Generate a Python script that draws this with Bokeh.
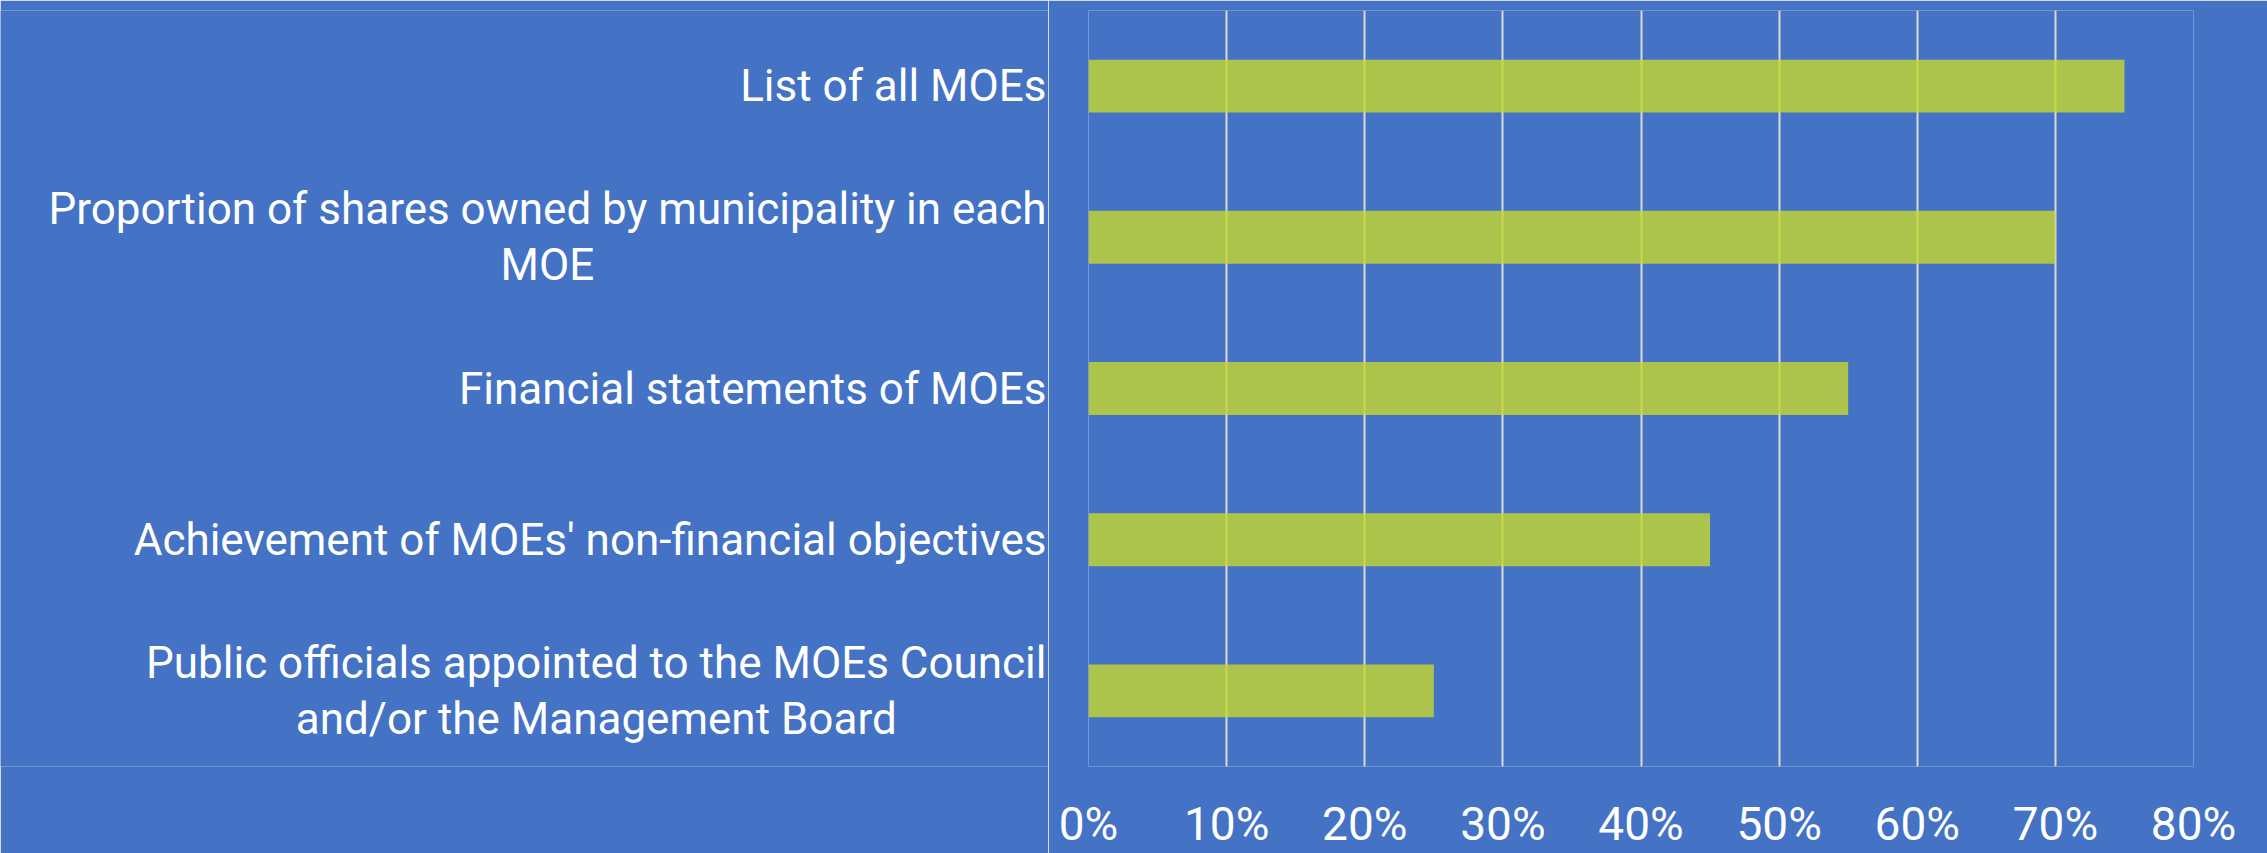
from bokeh.plotting import figure
from bokeh.layouts import row
from bokeh.models import FactorRange, Range1d, NumeralTickFormatter, SingleIntervalTicker
from bokeh.core.properties import value
from bokeh.embed import file_html
from bokeh.resources import INLINE

categories = [
    "List of all MOEs",
    "Proportion of shares owned by municipality in each\nMOE",
    "Financial statements of MOEs",
    "Achievement of MOEs' non-financial objectives",
    "Public officials appointed to the MOEs Council\nand/or the Management Board",
]
values = [0.75, 0.70, 0.55, 0.45, 0.25]

BG = "#4472C4"
FONT = "Roboto"
TOP, BOTTOM = 10, 79

y_range = FactorRange(*reversed(categories))

# left: category labels
pl = figure(
    width=1048, height=853, y_range=y_range, x_range=Range1d(0, 1),
    output_backend="svg", toolbar_location=None,
    x_axis_location=None, y_axis_location=None,
    min_border_left=0, min_border_right=0, min_border_top=TOP, min_border_bottom=BOTTOM,
)
pl.background_fill_color = BG
pl.border_fill_color = BG
pl.outline_line_color = None
pl.grid.visible = False
pl.text(x=[1] * len(categories), y=categories, text=categories, x_offset=-2,
        anchor="center_right", text_align="center", text_baseline="middle",
        text_color="white", text_font=value(FONT), text_font_size="44px",
        text_line_height=1.08)

# right: bars
p = figure(
    width=1219, height=853, y_range=y_range, x_range=Range1d(0, 0.8),
    output_backend="svg", toolbar_location=None, y_axis_location=None,
    min_border_left=40, min_border_right=74, min_border_top=TOP, min_border_bottom=BOTTOM,
)
p.background_fill_color = BG
p.border_fill_color = BG
p.outline_line_color = None

p.hbar(y=categories, right=values, left=0, height=0.35,
       fill_color=(197, 215, 48), fill_alpha=0.81, line_color=None)

p.xgrid.grid_line_color = "#D9D9D9"
p.xgrid.grid_line_width = 2
p.ygrid.grid_line_color = None
p.xaxis.ticker = SingleIntervalTicker(interval=0.1)
p.xaxis.formatter = NumeralTickFormatter(format="0%")
p.xaxis.axis_line_color = None
p.xaxis.major_tick_line_color = None
p.xaxis.minor_tick_line_color = None
p.xaxis.major_label_text_color = "white"
p.xaxis.major_label_text_font = FONT
p.xaxis.major_label_text_font_size = "46px"
p.xaxis.major_label_standoff = 24

layout = row(pl, p, spacing=0)
open("out.html", "w").write(file_html(layout, INLINE))
